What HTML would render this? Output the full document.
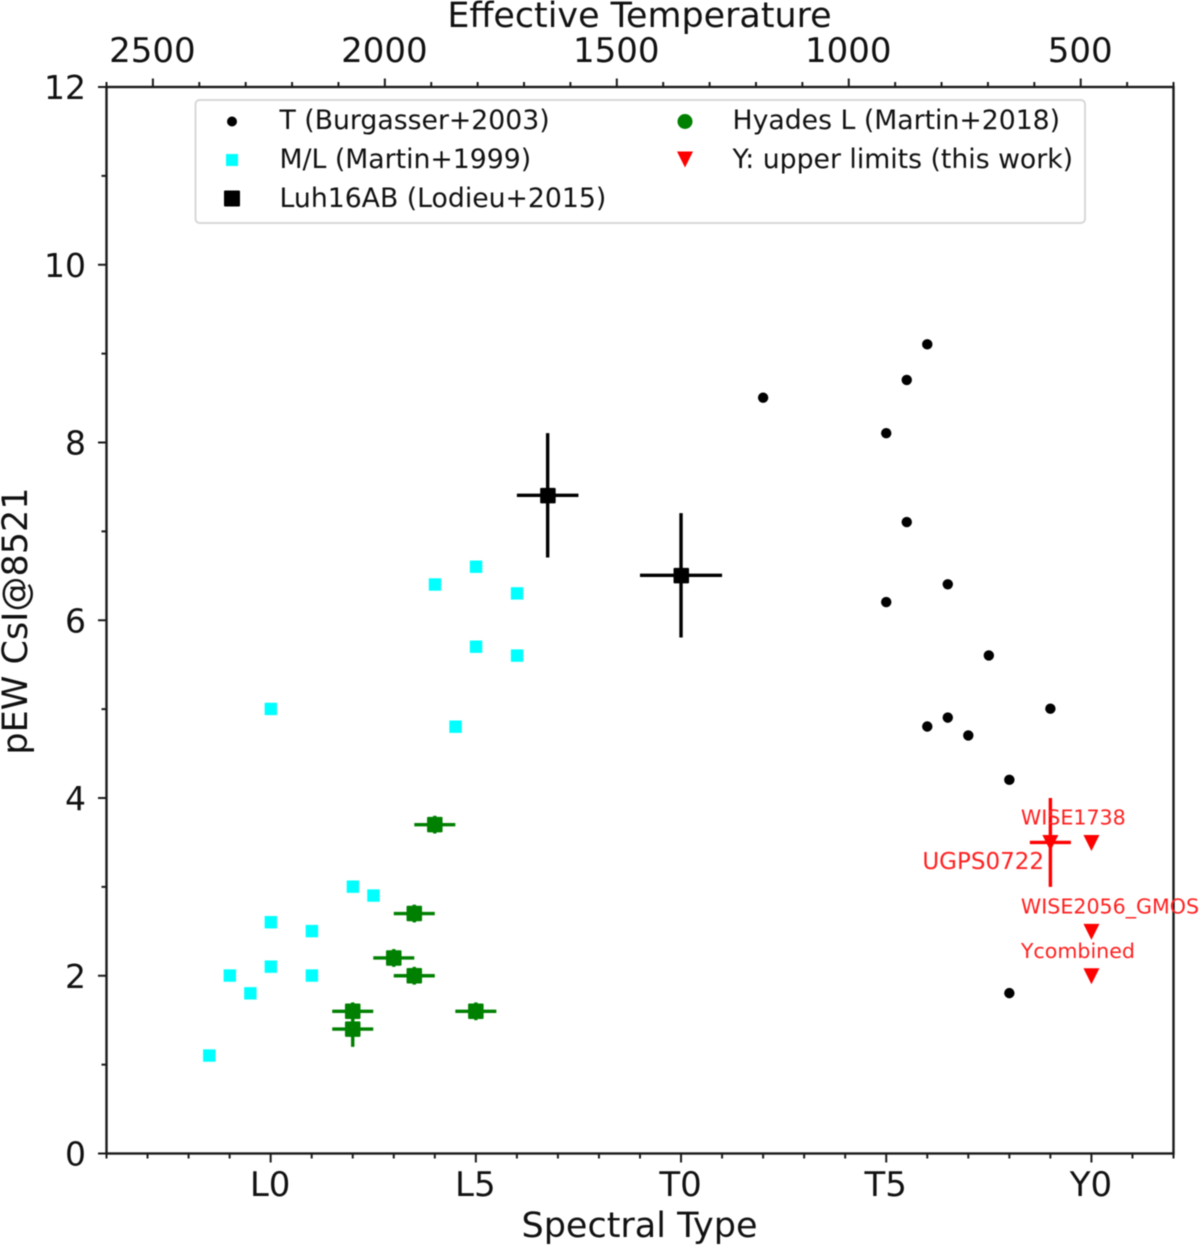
<!DOCTYPE html>
<html lang="en">
<head>
<meta charset="utf-8">
<title>pEW CsI@8521 versus spectral type</title>
<style>
html,body{margin:0;padding:0;background:#fff;width:1200px;height:1245px;overflow:hidden}
svg{display:block;font-family:"DejaVu Sans","Liberation Sans",sans-serif;fill:#000;filter:blur(0.5px)}
</style>
</head>
<body>
<svg id="chart" xmlns="http://www.w3.org/2000/svg" width="1200" height="1245" viewBox="0 0 1200 1245">
  <rect width="1200" height="1245" fill="#fff"/>
  <g id="axes"></g>
  <g id="marks"></g>
  <rect x="106.5" y="87" width="1067" height="1066.5" fill="none" stroke="#1a1a1a" stroke-width="2.4"/>
  <g>
    <rect x="195.5" y="100" width="889.5" height="123" rx="4" fill="#fff" fill-opacity="0.9" stroke="#d8d8d8" stroke-width="2"/>
    <circle cx="232" cy="121.5" r="5" fill="#000"/>
    <rect x="226" y="154" width="12" height="12" fill="#00ffff"/>
    <rect x="224" y="190.5" width="16" height="16" rx="1" fill="#000"/>
    <circle cx="685" cy="121.5" r="7.5" fill="#008000"/>
    <path d="M677 151.5H693L685 167.5Z" fill="#ff0000"/>
    <g font-size="26.7" fill="#111">
      <text x="279.5" y="129">T (Burgasser+2003)</text>
      <text x="279.5" y="168">M/L (Martin+1999)</text>
      <text x="279.5" y="207">Luh16AB (Lodieu+2015)</text>
      <text x="732.5" y="129">Hyades L (Martin+2018)</text>
      <text x="732.5" y="168">Y: upper limits (this work)</text>
    </g>
  </g>
  <text x="639.5" y="27" font-size="34.9" text-anchor="middle" fill="#111">Effective Temperature</text>
  <text x="639.5" y="1237" font-size="35" text-anchor="middle" fill="#111">Spectral Type</text>
  <text transform="translate(27,621) rotate(-90)" font-size="35" text-anchor="middle" fill="#111">pEW CsI@8521</text>
</svg>
<script>
// Spectral type scale: L0 = 0, T0 = 10, Y0 = 20
const xDomain = [-4, 22];
const yDomain = [0, 12];
const tempDomain = [2600, 300];

const xMajorTicks = [0, 5, 10, 15, 20];
const xTickLabels = ['L0', 'L5', 'T0', 'T5', 'Y0'];
const xMinorTicks = [-4, -3, -2, -1, 1, 2, 3, 4, 6, 7, 8, 9, 11, 12, 13, 14, 16, 17, 18, 19, 21, 22];
const yMajorTicks = [0, 2, 4, 6, 8, 10, 12];
const yMinorTicks = [1, 3, 5, 7, 9, 11];
const tempMajorTicks = [2500, 2000, 1500, 1000, 500];
const tempMinorTicks = [2600, 2400, 2300, 2200, 2100, 1900, 1800, 1700, 1600, 1400, 1300, 1200, 1100, 900, 800, 700, 600, 400, 300];

const tTypes = [16, 15.5, 12, 15, 15.5, 16.5, 15, 17.5, 19, 16, 16.5, 17, 18, 18];
const tValues = [9.1, 8.7, 8.5, 8.1, 7.1, 6.4, 6.2, 5.6, 5.0, 4.8, 4.9, 4.7, 4.2, 1.8];

const mlTypes = [-1.5, -1, -0.5, 0, 0, 0, 1, 1, 2, 2.5, 4, 4.5, 5, 5, 6, 6];
const mlValues = [1.1, 2.0, 1.8, 2.1, 2.6, 5.0, 2.0, 2.5, 3.0, 2.9, 6.4, 4.8, 6.6, 5.7, 6.3, 5.6];

const luhTypes = [6.75, 10];
const luhValues = [7.4, 6.5];
const luhTypeErrors = [0.75, 1];
const luhValueErrors = [0.7, 0.7];

const hyadesTypes = [2, 2, 3, 3.5, 3.5, 4, 5];
const hyadesValues = [1.6, 1.4, 2.2, 2.0, 2.7, 3.7, 1.6];
const hyadesTypeErrors = [0.5, 0.5, 0.5, 0.5, 0.5, 0.5, 0.5];
const hyadesValueErrors = [0.1, 0.2, 0.1, 0.1, 0.1, 0.1, 0.1];

const yLimitNames = ['WISE1738', 'WISE2056_GMOS', 'Ycombined'];
const yLimitTypes = [20, 20, 20];
const yLimitValues = [3.5, 2.5, 2.0];

const ugpsNames = ['UGPS0722'];
const ugpsTypes = [19];
const ugpsValues = [3.5];
const ugpsTypeErrors = [0.5];
const ugpsValueErrors = [0.5];

const NS = 'http://www.w3.org/2000/svg';
const plot = { left: 106.5, right: 1173.5, top: 87, bottom: 1153.5 };

function xScale(v) {
  return plot.left + (v - xDomain[0]) / (xDomain[1] - xDomain[0]) * (plot.right - plot.left);
}
function yScale(v) {
  return plot.bottom - (v - yDomain[0]) / (yDomain[1] - yDomain[0]) * (plot.bottom - plot.top);
}
function tempScale(v) {
  return plot.left + (tempDomain[0] - v) / (tempDomain[0] - tempDomain[1]) * (plot.right - plot.left);
}
function make(parent, tag, attrs, text) {
  const el = document.createElementNS(NS, tag);
  for (const k in attrs) el.setAttribute(k, attrs[k]);
  if (text !== undefined) el.textContent = text;
  parent.appendChild(el);
  return el;
}
function tickLine(parent, x1, y1, x2, y2, w) {
  return make(parent, 'line', { x1: x1, y1: y1, x2: x2, y2: y2, stroke: '#1a1a1a', 'stroke-width': w });
}
function errorBars(parent, type, value, xe, ye, color) {
  const group = make(parent, 'g', { stroke: color, 'stroke-width': 3.4 });
  make(group, 'line', { x1: xScale(type - xe), y1: yScale(value), x2: xScale(type + xe), y2: yScale(value) });
  make(group, 'line', { x1: xScale(type), y1: yScale(value - ye), x2: xScale(type), y2: yScale(value + ye) });
  return group;
}
function triangle(parent, type, value) {
  const cx = xScale(type);
  const cy = yScale(value);
  return make(parent, 'path', {
    d: 'M' + (cx - 8) + ' ' + (cy - 7.5) + 'H' + (cx + 8) + 'L' + cx + ' ' + (cy + 8.5) + 'Z',
    fill: '#ff0000'
  });
}

const axes = document.getElementById('axes');
const marks = document.getElementById('marks');

xMinorTicks.forEach(function (v) {
  const t = tickLine(axes, xScale(v), plot.bottom, xScale(v), plot.bottom + 5, 2);
  
  
});
xMajorTicks.forEach(function (v, i) {
  const t = tickLine(axes, xScale(v), plot.bottom, xScale(v), plot.bottom + 9, 2);
  
  
  const label = make(axes, 'text', { x: xScale(v) - 0.5, y: 1196, 'font-size': 34, 'text-anchor': 'middle', fill: '#111' }, xTickLabels[i]);
  
  
});
tempMinorTicks.forEach(function (v) {
  const t = tickLine(axes, tempScale(v), plot.top, tempScale(v), plot.top - 5, 2);
  
  
});
tempMajorTicks.forEach(function (v) {
  const t = tickLine(axes, tempScale(v), plot.top, tempScale(v), plot.top - 8.5, 2);
  
  
  const label = make(axes, 'text', { x: tempScale(v) - 0.5, y: 62, 'font-size': 34, 'text-anchor': 'middle', fill: '#111' }, String(v));
  
  
});
yMinorTicks.forEach(function (v) {
  const t = tickLine(axes, plot.left, yScale(v), plot.left - 5, yScale(v), 2);
  
  
});
yMajorTicks.forEach(function (v) {
  const t = tickLine(axes, plot.left, yScale(v), plot.left - 8.5, yScale(v), 2);
  
  
  const label = make(axes, 'text', { x: 86, y: yScale(v) + 12, 'font-size': 33, 'text-anchor': 'end', fill: '#111' }, String(v));
  
  
});

tTypes.forEach(function (type, i) {
  const dot = make(marks, 'circle', { cx: xScale(type), cy: yScale(tValues[i]) - 0.4, r: 5.2, fill: '#000' });
  
  
});
mlTypes.forEach(function (type, i) {
  const sq = make(marks, 'rect', { x: xScale(type) - 6, y: yScale(mlValues[i]) - 6.4, width: 12.4, height: 12.4, fill: '#00ffff' });
  
  
});
luhTypes.forEach(function (type, i) {
  const bars = errorBars(marks, type, luhValues[i] + 0.006, luhTypeErrors[i], luhValueErrors[i], '#000');
  
  
  const sq = make(marks, 'rect', { x: xScale(type) - 7.5, y: yScale(luhValues[i]) - 8, width: 15.5, height: 15.5, rx: 1, fill: '#000' });
  
  
});
hyadesTypes.forEach(function (type, i) {
  const bars = errorBars(marks, type, hyadesValues[i], hyadesTypeErrors[i], hyadesValueErrors[i], '#008000');
  
  
  const sq = make(marks, 'rect', { x: xScale(type) - 7.75, y: yScale(hyadesValues[i]) - 7.75, width: 15.5, height: 15.5, rx: 1, fill: '#008000' });
  
  
});
ugpsTypes.forEach(function (type, i) {
  const bars = errorBars(marks, type, ugpsValues[i], ugpsTypeErrors[i], ugpsValueErrors[i], '#ff0000');
  
  
  const tri = triangle(marks, type, ugpsValues[i]);
  
  
  const label = make(marks, 'text', { x: xScale(type - 3.12), y: yScale(ugpsValues[i] - 0.3), 'font-size': 23, fill: '#ff2020' }, ugpsNames[i]);
  
  
});
yLimitTypes.forEach(function (type, i) {
  const tri = triangle(marks, type, yLimitValues[i]);
  
  
  const label = make(marks, 'text', { x: xScale(type - 1.72), y: yScale(yLimitValues[i] + 0.2), 'font-size': 20.6, fill: '#ff2020' }, yLimitNames[i]);
  
  
});
// Annotation labels sit above the axes frame, as in the reference.
document.getElementById('chart').appendChild(marks);
</script>
</body>
</html>
